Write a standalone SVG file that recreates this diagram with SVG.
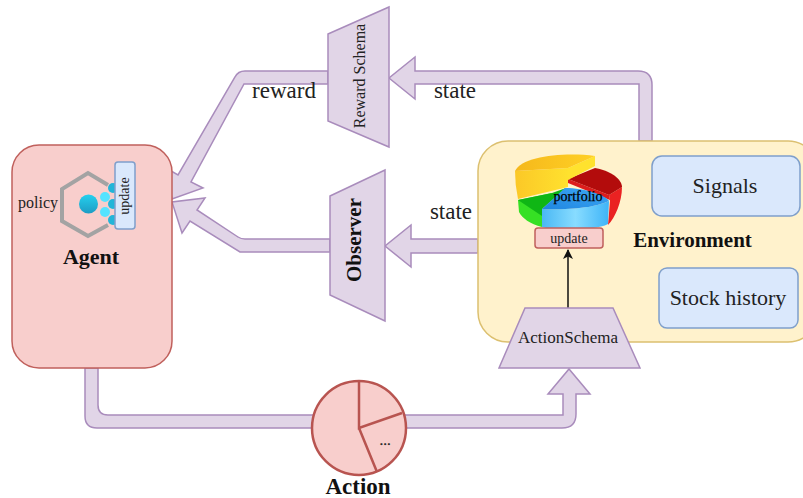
<svg xmlns="http://www.w3.org/2000/svg" width="803" height="498" viewBox="0 0 803 498">
<style>
text{font-family:"Liberation Serif","Times New Roman",serif;fill:#222;text-anchor:middle}
.b{font-weight:bold;fill:#111}
.flow{fill:#e1d5e7;stroke:#a98cbc;stroke-width:1.500;stroke-linejoin:miter}
.red{fill:#f8cecc;stroke:#c0605c;stroke-width:1.500}
.redc{fill:#f8cecc;stroke:#b85450;stroke-width:2.500}
.blue{fill:#dae8fc;stroke:#7f9fcb;stroke-width:1.500}
.yel{fill:#fff2cc;stroke:#dcc070;stroke-width:1.500}
.thin{fill:none;stroke:#111;stroke-width:1.500}
</style>
<defs>
<marker id="ah" markerWidth="12" markerHeight="10" refX="9" refY="5" orient="auto" markerUnits="userSpaceOnUse"><path d="M0 0L10 5L0 10L2.500 5Z" fill="#111"/></marker>
<linearGradient id="cy" x1="0" y1="0" x2="0" y2="1"><stop offset="0" stop-color="#25d0ee"/><stop offset="1" stop-color="#1d9cc4"/></linearGradient>
<linearGradient id="yg" x1="0" y1="0" x2="1" y2="0"><stop offset="0" stop-color="#f5b81c"/><stop offset="1" stop-color="#ffd024"/></linearGradient>
<linearGradient id="ys" x1="0" y1="0" x2="1" y2="0"><stop offset="0" stop-color="#fbc827"/><stop offset="1" stop-color="#ffe12e"/></linearGradient>
<linearGradient id="bf" x1="0" y1="0" x2="1" y2="0"><stop offset="0" stop-color="#4ab8f4"/><stop offset=".5" stop-color="#88dcff"/><stop offset="1" stop-color="#3eb4f8"/></linearGradient>
<linearGradient id="bt" x1="0" y1="1" x2="1" y2="0"><stop offset="0" stop-color="#1f86e0"/><stop offset="1" stop-color="#3ea8f5"/></linearGradient>
</defs>
<g id="connectors">
<path class="flow" d="M328 71H245Q238 71 235 77L178 175L166 168L172 199L203 188L191 182L244 84H328Z"/>
<path class="flow" d="M330 239H245Q241 239 238 237L197 210L205 198L172 202L182 233L190 221L240 252H330Z"/>
<path class="flow" d="M639 141V84H415V99L389 78L415 57V71H638Q652 71 652 85V141Z"/>
<path class="flow" d="M478 239H411V225L385 246L411 267V253H478Z"/>
<path class="flow" d="M85 368V416Q85 428 97 428H562Q576 428 576 414V394H590L569 369L548 394H563V415H108Q98 415 98 405V368Z"/>
<path class="thin" d="M172 195H137" marker-end="url(#ah)"/>
</g>
<g id="agent">
<rect class="red" x="12" y="145" width="160" height="223" rx="27"/>
<text x="38" y="208" font-size="16">policy</text>
<text class="b" x="91" y="264" font-size="22">Agent</text>
</g>
<g id="policy-icon">
<path d="M108 185L88 173L62 189V221L88 236L108 225" fill="none" stroke="#a3a3a3" stroke-width="4"/>
<circle cx="88.500" cy="204" r="9.500" fill="url(#cy)"/>
<circle cx="105" cy="197" r="5" fill="#55e3ff"/>
<circle cx="105" cy="212" r="5" fill="#55e3ff"/>
<circle cx="113" cy="188" r="5" fill="#22b5d8"/>
<circle cx="113" cy="204" r="5" fill="#22b5d8"/>
<circle cx="113" cy="220" r="5" fill="#22b5d8"/>
</g>
<g id="agent-update">
<rect class="blue" x="115" y="162" width="20" height="67" rx="3"/>
<text transform="translate(129,196) rotate(-90)" font-size="14">update</text>
</g>
<g id="environment">
<rect class="yel" x="478" y="141" width="340" height="201" rx="30"/>
<text class="b" x="692.500" y="247" font-size="21">Environment</text>
</g>
<g id="signals">
<rect class="blue" x="652" y="156" width="148" height="60" rx="10"/>
<text x="725" y="193" font-size="22">Signals</text>
</g>
<g id="stock-history">
<rect class="blue" x="659" y="268" width="139" height="60" rx="8"/>
<text x="728" y="305" font-size="22">Stock history</text>
</g>
<g id="portfolio">
<path d="M518 200L552 193L542 209V227C530 224 522 218 519 212Z" fill="#36e024"/>
<path d="M518 200L552 193L566 188L542 209V216Z" fill="#0fb615"/>
<path d="M609 195L622 187C622 202 615 218 608 225L610 201Z" fill="#ea2222"/>
<path d="M568 179L609 195L610 200L568 183Z" fill="#dc1c1c"/>
<path d="M568 179L595 168C616 172 622 182 622 187L609 195Z" fill="#b30c0c"/>
<path d="M515 171L568 168V187L518 199Q515 185 515 171Z" fill="url(#ys)"/>
<path d="M568 168L595 156V166L568 180Z" fill="#ffe22e"/>
<path d="M515 171C522 156 565 152 595 156L568 168Z" fill="url(#yg)"/>
<path d="M542 209C565 210 595 208 609 201L608 224C595 231 555 231 542 227Z" fill="url(#bf)"/>
<path d="M542 209L565 188C585 188 605 195 609 201C595 208 565 210 542 209Z" fill="url(#bt)"/>
<text x="578" y="201" font-size="14" style="fill:#000;stroke:#000;stroke-width:.25">portfolio</text>
</g>
<g id="env-update">
<rect class="red" x="535" y="228" width="68" height="20" rx="3"/>
<text x="569" y="243" font-size="14">update</text>
</g>
<path class="thin" d="M568 308V250" marker-end="url(#ah)"/>
<g id="reward-schema">
<path class="flow" d="M328 34L389 7V147L328 121Z"/>
<text transform="translate(365,76) rotate(-90)" font-size="16">Reward Schema</text>
</g>
<g id="observer">
<path class="flow" d="M330 196L385 170V321L330 295Z"/>
<text class="b" transform="translate(361,240) rotate(-90)" font-size="21">Observer</text>
</g>
<g id="action-schema">
<path class="flow" d="M525 308H613L640 368H499Z"/>
<text x="568" y="343" font-size="17">ActionSchema</text>
</g>
<g id="action">
<circle class="redc" cx="359" cy="428" r="47"/>
<path d="M359 381V428L402 413M359 428L377 472" fill="none" stroke="#b85450" stroke-width="2.500"/>
<text x="385" y="445" font-size="15" style="stroke:#222;stroke-width:.3">...</text>
<text class="b" x="358" y="494" font-size="23">Action</text>
</g>
<g id="labels">
<text x="284" y="98" font-size="23">reward</text>
<text x="455" y="98" font-size="23">state</text>
<text x="451" y="219" font-size="23">state</text>
</g>
</svg>
